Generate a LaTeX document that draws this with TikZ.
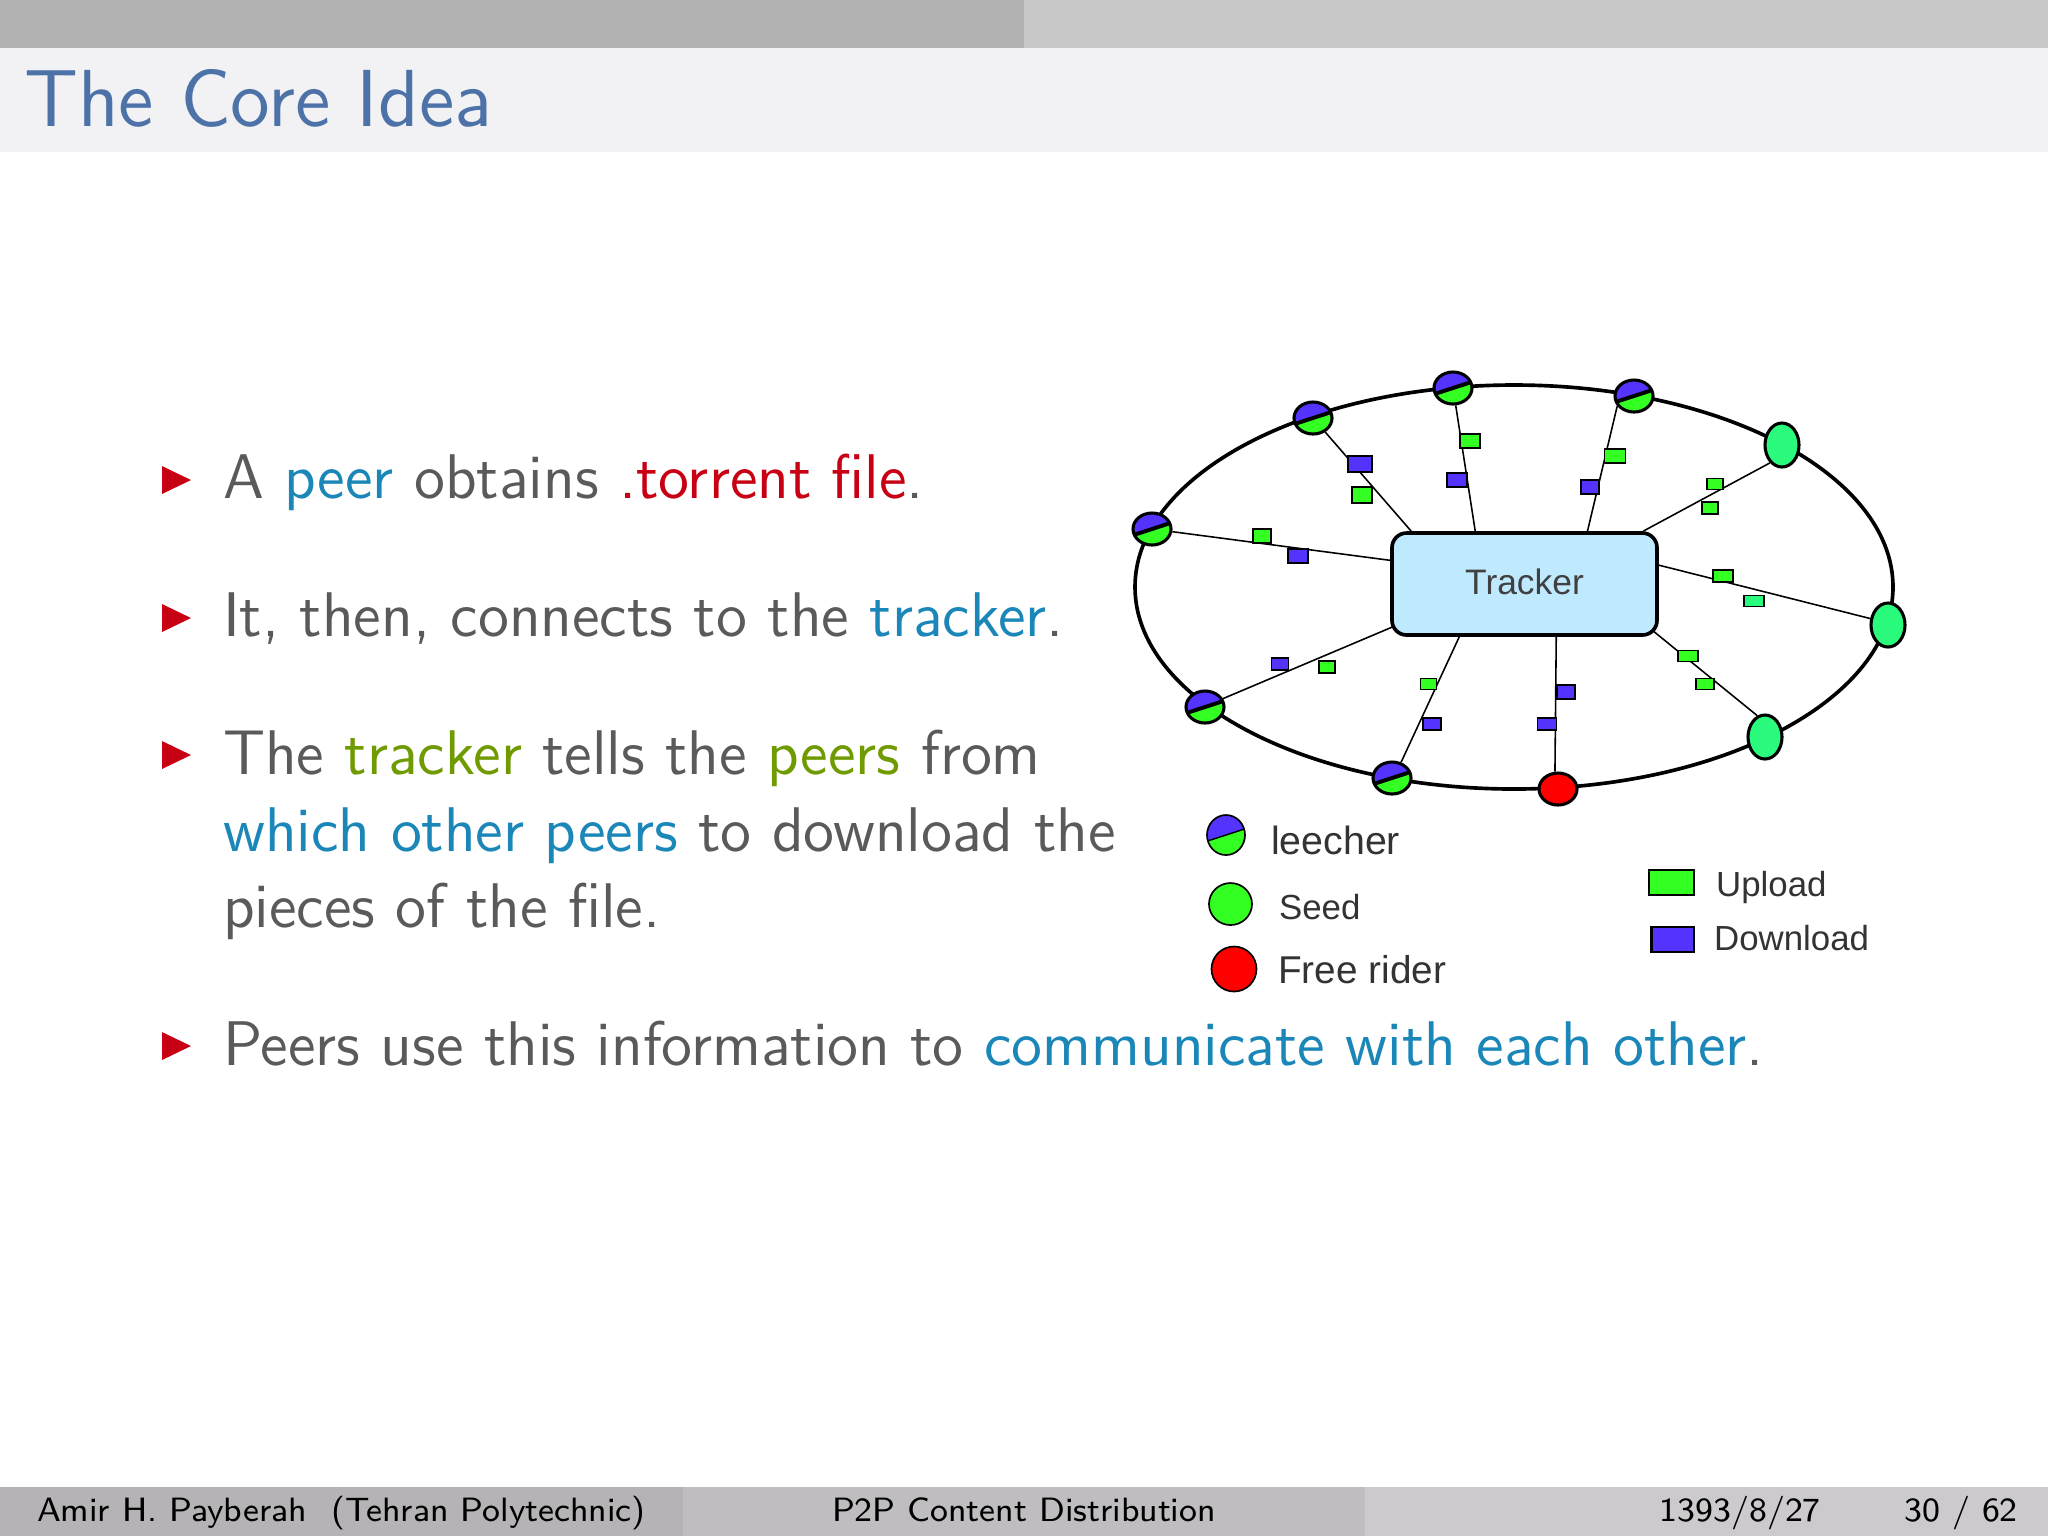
\documentclass[tikz,border=0pt]{standalone}
\usepackage{fontspec}
\usetikzlibrary{shapes.geometric}
\newfontfamily\figfont{Liberation Sans}

\definecolor{barDark}{HTML}{B2B2B2}
\definecolor{barLight}{HTML}{C8C8C8}
\definecolor{titleBand}{HTML}{F2F2F4}
\definecolor{titleBlue}{HTML}{4D72A8}
\definecolor{bodyGray}{HTML}{5A5A5A}
\definecolor{itemBlue}{HTML}{1A87B8}
\definecolor{itemRed}{HTML}{C80014}
\definecolor{itemGreen}{HTML}{6F9A00}
\definecolor{footA}{HTML}{B5B3B5}
\definecolor{footB}{HTML}{BFBDC0}
\definecolor{footC}{HTML}{CCCACD}
\definecolor{dlBlue}{HTML}{5533FF}
\definecolor{upGreen}{HTML}{33FF22}
\definecolor{seedGreen}{HTML}{2BFB7D}
\definecolor{trackerBlue}{HTML}{BFE9FF}

\tikzset{sz/.style args={#1x#2}{minimum width=#1*0.00625cm,minimum height=#2*0.00625cm}}

\begin{document}
\begin{tikzpicture}[x=0.00625cm,y=-0.00625cm]
\useasboundingbox (0,0) rectangle (2048,1536);

% slide frame
\fill[barDark] (0,0) rectangle (1024,48);
\fill[barLight] (1024,0) rectangle (2048,48);
\fill[titleBand] (0,48) rectangle (2048,152);
\fill[footA] (0,1487) rectangle (683,1536);
\fill[footB] (683,1487) rectangle (1365,1536);
\fill[footC] (1365,1487) rectangle (2048,1536);

\tikzstyle{foot}=[inner sep=0pt,font=\sffamily\fontsize{6}{7}\selectfont,text=black]
\draw (23,126) node[anchor=base west,inner sep=0pt,font=\sffamily\fontsize{14.4}{17}\selectfont,text=titleBlue] (title) {The Core Idea};
\draw (36,1521) node[foot,anchor=base west] (author) {Amir H. Payberah\ \ (Tehran Polytechnic)};
\draw (1024,1521) node[foot,anchor=base] (talk) {P2P Content Distribution};
\draw (1822,1521) node[foot,anchor=base east] (date) {1393/8/27};
\draw (2019,1521) node[foot,anchor=base east] (page) {30 / 62};

% text on the left
\tikzstyle{item}=[anchor=base west,inner sep=0pt,align=left,font=\sffamily\fontsize{11.23}{13.6}\selectfont,text=bodyGray]
\tikzstyle{bullet}=[fill=itemRed]
\fill[bullet] (162,466) -- (191,480) -- (162,494) -- cycle;
\fill[bullet] (162,604) -- (191,618) -- (162,632) -- cycle;
\fill[bullet] (162,741) -- (191,755) -- (162,769) -- cycle;
\fill[bullet] (162,1032) -- (191,1046) -- (162,1060) -- cycle;
\draw (222,498.5) node[item] (first) {A \textcolor{itemBlue}{peer} obtains \textcolor{itemRed}{.torrent file}.};
\draw (222,636.5) node[item] (second) {It, then, connects to the \textcolor{itemBlue}{tracker}.};
\draw (222,927.5) node[item] (third) {The \textcolor{itemGreen}{tracker} tells the \textcolor{itemGreen}{peers} from\\\textcolor{itemBlue}{which other peers} to download the\\pieces of the file.};
\draw (222,1065.5) node[item] (fourth) {Peers use this information to \textcolor{itemBlue}{communicate with each other}.};

% ring and tracker
\coordinate (ringc) at (1514,587);
\draw[line width=0.65pt] (ringc) ellipse [x radius=379,y radius=202];
\draw (1524.5,584) node[draw,fill=trackerBlue,rounded corners=2.6pt,line width=0.65pt,sz=265x102,inner sep=0pt,text=black!75,font=\figfont\fontsize{6.3}{8}\selectfont] (tracker) {\raisebox{1pt}{Tracker}\hspace{1.2pt}};

% peers on the ring
\def\splitw{0.7pt}
\tikzstyle{peer}=[draw,ellipse,inner sep=0pt,line width=0.55pt]
\tikzstyle{leecher}=[peer,sz=38x32,fill=dlBlue,path picture={
\fill[upGreen] ([shift={(-40,13)}]path picture bounding box.center) -- ++(80,-26) -- ++(0,50) -- ++(-80,0) -- cycle;
\draw[line width=\splitw] ([shift={(-40,13)}]path picture bounding box.center) -- ++(80,-26);}]
\tikzstyle{seed}=[peer,sz=34x44,fill=seedGreen]
\draw (1152,529) node[leecher] (l1) {};
\draw (1313,418) node[leecher] (l2) {};
\draw (1453,388) node[leecher] (l3) {};
\draw (1634,396) node[leecher] (l4) {};
\draw (1392,778) node[leecher] (l5) {};
\draw (1205,707) node[leecher] (l6) {};
\draw (1782,445) node[seed] (s1) {};
\draw (1888,625) node[seed] (s2) {};
\draw (1765,737) node[seed] (s3) {};
\draw (1558,789) node[peer,sz=38x32,fill=red] (free) {};

% spokes
\tikzstyle{spoke}=[line width=0.28pt]
\draw[spoke] (tracker.170) -- (l1);
\draw[spoke] (tracker.155.5) -- (l2);
\draw[spoke] (tracker.133) -- (l3);
\draw[spoke] (tracker.40) -- (l4.211);
\draw[spoke] (tracker.24) -- (s1.236);
\draw[spoke] (tracker.8) -- (s2.160);
\draw[spoke] ([shift={(-7,-3)}]tracker.-20.5) -- (s3.110);
\draw[spoke] (tracker.-59) -- (free.100);
\draw[spoke] (tracker.-141.6) -- (l5.60);
\draw[spoke] ([shift={(3,-1)}]tracker.-162) -- (l6.25);

% pieces on the spokes
\tikzstyle{download}=[draw,fill=dlBlue,inner sep=0pt,line width=0.3pt]
\tikzstyle{upload}=[draw,fill=upGreen,inner sep=0pt,line width=0.3pt]
\draw (1360,464) node[download,sz=24x15.5] (d1) {};
\draw (1457,480) node[download,sz=20x14] (d2) {};
\draw (1590,487) node[download,sz=18x14] (d3) {};
\draw (1566,692) node[download,sz=18x14] (d4) {};
\draw (1547,724) node[download,sz=19x12] (d5) {};
\draw (1432,724) node[download,sz=18x12] (d6) {};
\draw (1280,664) node[download,sz=17x12] (d7) {};
\draw (1298,556) node[download,sz=20x14] (d8) {};
\draw (1362,495) node[upload,sz=20x16] (u1) {};
\draw (1470,441) node[upload,sz=20x13.5] (u2) {};
\draw (1615,456) node[upload,sz=21x14] (u3) {};
\draw (1715,484) node[upload,sz=16x11] (u4) {};
\draw (1710,508) node[upload,sz=16x12] (u5) {};
\draw (1723,576) node[upload,sz=20x12] (u6) {};
\draw (1754,601) node[upload,sz=20x11,fill=seedGreen] (u7) {};
\draw (1688,656) node[upload,sz=20x11] (u8) {};
\draw (1705,684) node[upload,sz=18x11] (u9) {};
\draw (1428.5,684) node[upload,sz=16x11] (u10) {};
\draw (1327,667) node[upload,sz=16x12] (u11) {};
\draw (1262,536) node[upload,sz=18x14] (u12) {};

% legend
\def\splitw{0.25pt}
\tikzstyle{legend}=[anchor=west,inner sep=0pt,text=black!80,font=\figfont\fontsize{6.2}{8}\selectfont]
\draw (1226,835) node[leecher,sz=38x40,line width=0.3pt] (keyleech) {};
\draw (1230.5,904) node[peer,sz=43x42,fill=upGreen,line width=0.3pt] (keyseed) {};
\draw (1234,969) node[peer,sz=45x45,fill=red,line width=0.3pt] (keyfree) {};
\draw (1671.5,882.5) node[upload,sz=45x25,line width=0.45pt] (keyup) {};
\draw (1672.75,939.5) node[download,sz=42.5x25,line width=0.45pt] (keydown) {};
\draw (1270,840) node[legend,font=\figfont\fontsize{7}{8}\selectfont] (textleech) {leecher};
\draw (1278,907) node[legend] (textseed) {Seed};
\draw (1277,970) node[legend,font=\figfont\fontsize{6.9}{8}\selectfont] (textfree) {Free rider};
\draw (1715,887) node[legend] (textup) {Upload};
\draw (1713,938) node[legend] (textdown) {Download};
\end{tikzpicture}
\end{document}
